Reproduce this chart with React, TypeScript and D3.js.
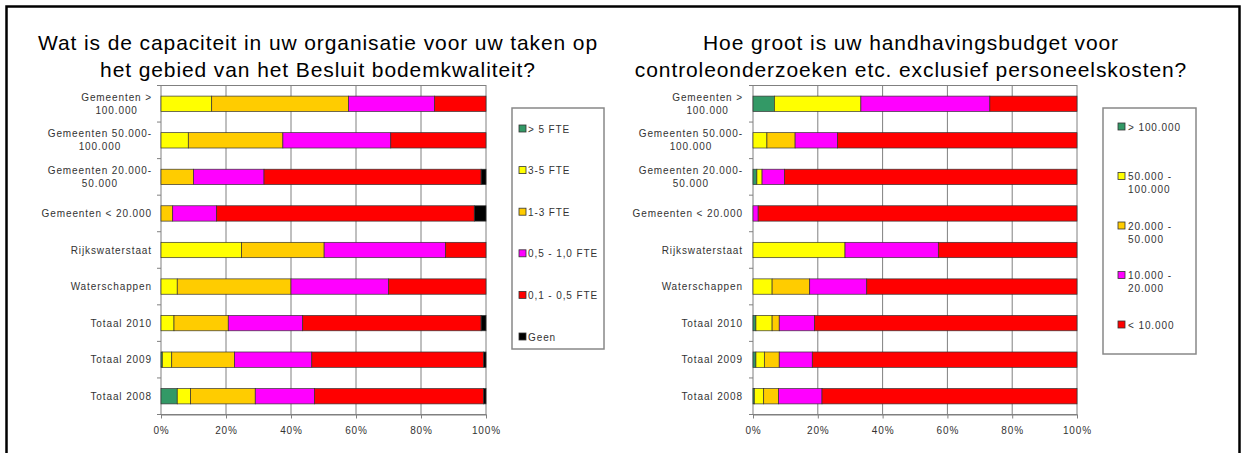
import React, { useEffect, useRef } from "react";
import * as d3 from "d3";

// category labels (line breaks as in the original)
const categoryLines: string[][] = [
  ["Gemeenten >", "100.000"],
  ["Gemeenten 50.000-", "100.000"],
  ["Gemeenten 20.000-", "50.000"],
  ["Gemeenten < 20.000"],
  ["Rijkswaterstaat"],
  ["Waterschappen"],
  ["Totaal 2010"],
  ["Totaal 2009"],
  ["Totaal 2008"],
];

// left chart: capaciteit (FTE), percentages
const fteKeys = ["> 5 FTE", "3-5 FTE", "1-3 FTE", "0,5 - 1,0 FTE", "0,1 - 0,5 FTE", "Geen"];
const fteMore5 = [0, 0, 0, 0, 0, 0, 0, 0.4, 5];
const fte3to5 = [15.6, 8.4, 0, 0, 24.8, 5, 4, 2.9, 4.1];
const fte1to3 = [42.1, 29.1, 10, 3.6, 25.4, 35, 16.7, 19.3, 19.9];
const fte05to1 = [26.5, 33.2, 21.7, 13.5, 37.3, 30, 22.9, 23.8, 18.2];
const fte01to05 = [15.8, 29.3, 66.8, 79.3, 12.5, 30, 54.9, 52.9, 52.1];
const fteNone = [0, 0, 1.5, 3.6, 0, 0, 1.5, 0.7, 0.7];

// right chart: handhavingsbudget, percentages
const budgetKeys = ["> 100.000", "50.000 - 100.000", "20.000 - 50.000", "10.000 - 20.000", "< 10.000"];
const budgetLegendLines = [["> 100.000"], ["50.000 -", "100.000"], ["20.000 -", "50.000"], ["10.000 -", "20.000"], ["< 10.000"]];
const budgetMore100k = [6.6, 0, 1.2, 0, 0, 0, 0.9, 0.9, 0.4];
const budget50to100k = [26.7, 4.3, 1.6, 0, 28.4, 5.9, 5.0, 2.6, 2.9];
const budget20to50k = [0, 8.7, 0, 0, 0, 11.6, 2.2, 4.6, 4.6];
const budget10to20k = [39.8, 13.1, 6.9, 1.6, 28.8, 17.6, 10.9, 10.2, 13.4];
const budgetLess10k = [26.9, 73.9, 90.3, 98.4, 42.8, 64.9, 81.0, 81.7, 78.7];

const xTicks = [0, 20, 40, 60, 80, 100];

const fteColors = ["#339966", "#ffff00", "#ffcc00", "#ff00ff", "#ff0000", "#000000"];
const budgetColors = ["#339966", "#ffff00", "#ffcc00", "#ff00ff", "#ff0000"];

const FONT = "'Liberation Sans', Arial, sans-serif";
const GRID = "#808080";

type Panel = {
  title: string[];
  titleX: number;
  x0: number;
  x1: number;
  y0: number;
  y1: number;
  labelRight: number;
  keys: string[];
  values: number[][];
  colors: string[];
  legendLines: string[][];
  legend: { x: number; y: number; w: number; h: number; firstY: number; gap: number; swatchX: number; textX: number };
};

const drawPanel = (svg: any, p: Panel) => {
  const g = svg.append("g");
  const catKeys = categoryLines.map((l) => l.join(" "));
  const rows = catKeys.map((c, i) => {
    const r: any = { cat: c };
    p.keys.forEach((k, j) => (r[k] = p.values[j][i]));
    return r;
  });
  const stacked = d3.stack().keys(p.keys)(rows);

  const x = d3.scaleLinear().domain([0, 100]).range([p.x0, p.x1]);
  const y = d3
    .scaleBand()
    .domain(catKeys)
    .range([p.y0, p.y1])
    .paddingInner(0.58)
    .paddingOuter(0.29);

  // title
  p.title.forEach((t, i) => {
    g.append("text")
      .attr("x", p.titleX)
      .attr("y", 50 + i * 27)
      .attr("text-anchor", "middle")
      .style("font-family", FONT)
      .style("font-size", "21px")
      .style("letter-spacing", "0.9px")
      .attr("fill", "#000")
      .text(t);
  });

  // plot area
  g.append("rect")
    .attr("x", p.x0)
    .attr("y", p.y0)
    .attr("width", p.x1 - p.x0)
    .attr("height", p.y1 - p.y0)
    .attr("fill", "#fff")
    .attr("stroke", GRID)
    .attr("stroke-width", 1);

  g.selectAll(".grid")
    .data(xTicks.slice(1, -1))
    .join("line")
    .attr("x1", (d: number) => x(d))
    .attr("x2", (d: number) => x(d))
    .attr("y1", p.y0)
    .attr("y2", p.y1)
    .attr("stroke", GRID)
    .attr("stroke-width", 1);

  // category ticks
  g.selectAll(".ytick")
    .data(d3.range(catKeys.length + 1))
    .join("line")
    .attr("x1", p.x0 - 4)
    .attr("x2", p.x0)
    .attr("y1", (i: number) => p.y0 + i * y.step())
    .attr("y2", (i: number) => p.y0 + i * y.step())
    .attr("stroke", GRID);

  // x axis
  const ax = g
    .append("g")
    .attr("transform", `translate(0,${p.y1})`)
    .call(
      d3
        .axisBottom(x)
        .tickValues(xTicks)
        .tickFormat((d: any) => d + "%")
        .tickSize(4)
        .tickSizeOuter(0)
        .tickPadding(8)
    );
  ax.select(".domain").attr("stroke", GRID);
  ax.selectAll(".tick line").attr("stroke", GRID);
  ax.selectAll("text")
    .style("font-family", FONT)
    .style("font-size", "10px")
    .style("letter-spacing", "0.9px")
    .attr("fill", "#333");

  // bars
  stacked.forEach((s: any, si: number) => {
    g.append("g")
      .selectAll("rect")
      .data(s.filter((d: any) => d[1] - d[0] > 0))
      .join("rect")
      .attr("x", (d: any) => x(d[0]))
      .attr("width", (d: any) => x(d[1]) - x(d[0]))
      .attr("y", (d: any) => y(d.data.cat))
      .attr("height", y.bandwidth())
      .attr("fill", p.colors[si])
      .attr("stroke", "#333")
      .attr("stroke-width", 0.7);
  });

  // category labels
  catKeys.forEach((c, i) => {
    const lines = categoryLines[i];
    const cy = (y(c) as number) + y.bandwidth() / 2;
    const tg = g.append("g");
    const texts = lines.map((l, li) =>
      tg
        .append("text")
        .attr("y", cy + 3.5 + (li - (lines.length - 1) / 2) * 13)
        .attr("text-anchor", "middle")
        .style("font-family", FONT)
        .style("font-size", "10px")
        .style("letter-spacing", "0.9px")
        .attr("fill", "#333")
        .text(l)
    );
    const maxW = d3.max(texts, (t: any) => (t.node() as SVGTextElement).getComputedTextLength()) || 0;
    texts.forEach((t: any) => t.attr("x", p.labelRight - maxW / 2));
  });

  // legend
  const L = p.legend;
  g.append("rect")
    .attr("x", L.x)
    .attr("y", L.y)
    .attr("width", L.w)
    .attr("height", L.h)
    .attr("fill", "#fff")
    .attr("stroke", "#888")
    .attr("stroke-width", 1.5);
  p.legendLines.forEach((lines, i) => {
    const ly = L.firstY + i * L.gap;
    g.append("rect")
      .attr("x", L.swatchX)
      .attr("y", ly - 4)
      .attr("width", 7)
      .attr("height", 7)
      .attr("fill", p.colors[i])
      .attr("stroke", "#333")
      .attr("stroke-width", 0.8);
    lines.forEach((l, li) => {
      g.append("text")
        .attr("x", L.textX)
        .attr("y", ly + 3.5 + li * 13)
        .style("font-family", FONT)
        .style("font-size", "10px")
        .style("letter-spacing", "0.9px")
        .attr("fill", "#333")
        .text(l);
    });
  });
};

export default function App() {
  const svgRef = useRef<SVGSVGElement>(null);
  useEffect(() => {
    const svg = d3.select(svgRef.current);
    svg.selectAll("*").remove();

    svg.append("rect").attr("width", 1244).attr("height", 453).attr("fill", "#fff");
    svg
      .append("rect")
      .attr("x", 6.5)
      .attr("y", 6.5)
      .attr("width", 1233)
      .attr("height", 470)
      .attr("fill", "none")
      .attr("stroke", "#000")
      .attr("stroke-width", 2.5);

    drawPanel(svg, {
      title: ["Wat is de capaciteit in uw organisatie voor uw taken op", "het gebied van het Besluit bodemkwaliteit?"],
      titleX: 318,
      x0: 161,
      x1: 486,
      y0: 85.5,
      y1: 414.5,
      labelRight: 152,
      keys: fteKeys,
      values: [fteMore5, fte3to5, fte1to3, fte05to1, fte01to05, fteNone],
      colors: fteColors,
      legendLines: fteKeys.map((k) => [k]),
      legend: { x: 512, y: 108, w: 92, h: 241, firstY: 129, gap: 41.6, swatchX: 519, textX: 528 },
    });

    drawPanel(svg, {
      title: ["Hoe groot is uw handhavingsbudget voor", "controleonderzoeken etc. exclusief personeelskosten?"],
      titleX: 911,
      x0: 753,
      x1: 1077,
      y0: 85.5,
      y1: 414.5,
      labelRight: 743,
      keys: budgetKeys,
      values: [budgetMore100k, budget50to100k, budget20to50k, budget10to20k, budgetLess10k],
      colors: budgetColors,
      legendLines: budgetLegendLines,
      legend: { x: 1103, y: 108, w: 93, h: 246, firstY: 127, gap: 49.5, swatchX: 1118, textX: 1128 },
    });
  }, []);

  return (
    <svg
      ref={svgRef}
      width={1244}
      height={453}
      style={{ position: "absolute", left: 0, top: 0, display: "block" }}
    />
  );
}
